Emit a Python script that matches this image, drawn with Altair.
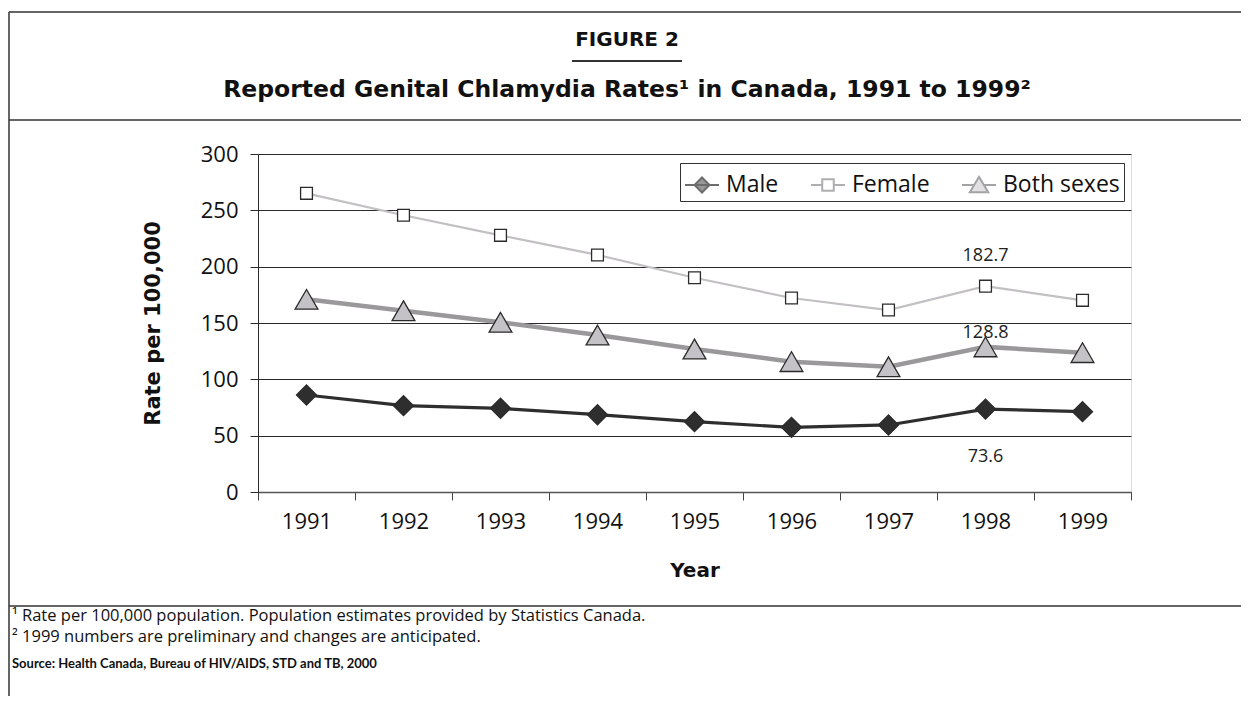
import altair as alt
import pandas as pd

# ---- data ----
years = ["1991", "1992", "1993", "1994", "1995", "1996", "1997", "1998", "1999"]
series = ["Male", "Female", "Both sexes"]
male = [86.1, 76.6, 74.3, 68.6, 62.4, 57.4, 59.5, 73.6, 71.3]
female = [265.1, 245.6, 227.8, 210.4, 190.2, 172.2, 161.5, 182.7, 170.1]
both = [171.0, 160.9, 150.6, 139.3, 126.9, 115.7, 111.2, 128.8, 123.7]
y_ticks = [0, 50, 100, 150, 200, 250, 300]

title_text = "FIGURE 2"
subtitle_text = "Reported Genital Chlamydia Rates\u00b9 in Canada, 1991 to 1999\u00b2"
note1 = "\u00b9 Rate per 100,000 population. Population estimates provided by Statistics Canada."
note2 = "\u00b2 1999 numbers are preliminary and changes are anticipated."
source = "Source: Health Canada, Bureau of HIV/AIDS, STD and TB, 2000"

rows = []
for s, vals in zip(series, [male, female, both]):
    for yv, v in zip(years, vals):
        rows.append({"year": yv, "series": s, "value": v})
df = pd.DataFrame(rows)

FONT = "Open Sans"
BOLD = "DejaVu Sans"
W, H = 873, 338
DARK = "#2b2b2b"

x_enc = alt.X("year:O", scale=alt.Scale(type="band", paddingInner=0, paddingOuter=0),
              axis=alt.Axis(title="Year", labelAngle=0, tickBand="extent", tickSize=8,
                            domainColor="#555", domainWidth=1.5, tickColor="#444",
                            labelFontSize=22, labelPadding=11, labelColor="#111",
                            labelFont=FONT, titleFont=BOLD, titleFontSize=20,
                            titleFontWeight="bold", titlePadding=28, titleColor="#111"))
y_enc = alt.Y("value:Q", scale=alt.Scale(domain=[0, 300], nice=False),
              axis=alt.Axis(title="Rate per 100,000", values=y_ticks, grid=True,
                            gridColor=DARK, gridWidth=1, domainColor=DARK, tickColor=DARK,
                            tickSize=8, labelFontSize=22, labelPadding=12, labelColor="#111",
                            labelFont=FONT, titleFont=BOLD, titleFontSize=21,
                            titleFontWeight="bold", titlePadding=37, titleColor="#111"))

base = alt.Chart(df)

line_styles = {"Female": ("#c3bfc4", 2.2), "Both sexes": ("#9a989b", 4.5), "Male": ("#2e2e2e", 3.2)}
line_layers = []
for s, (col, wd) in line_styles.items():
    line_layers.append(
        base.transform_filter(alt.datum.series == s)
        .mark_line(color=col, strokeWidth=wd)
        .encode(x=x_enc, y=y_enc)
    )

markers = base.mark_point(filled=True, opacity=1, strokeWidth=1.3, stroke="#2b2b2b").encode(
    x="year:O", y="value:Q",
    shape=alt.Shape("series:N", scale=alt.Scale(domain=series, range=["diamond", "square", "triangle-up"]), legend=None),
    fill=alt.Fill("series:N", scale=alt.Scale(domain=series, range=["#2e2e2e", "#ffffff", "#c4c2c6"]), legend=None),
    size=alt.Size("series:N", scale=alt.Scale(type="ordinal", domain=series, range=[400, 140, 520]), legend=None),
)

label_offsets = {"Female": -30, "Both sexes": -14, "Male": 48}
label_layers = []
for s, dy in label_offsets.items():
    label_layers.append(
        base.transform_filter((alt.datum.series == s) & (alt.datum.year == "1998"))
        .mark_text(dy=dy, fontSize=18, font=FONT, color="#222")
        .encode(x="year:O", y="value:Q", text=alt.Text("value:Q", format=".1f"))
    )

# legend generated from an empty layer with explicit domains
p_male = "M-1,0H1M0,-0.44L0.44,0L0,0.44L-0.44,0Z"
p_female = "M-1,0H-0.34M0.34,0H1M-0.34,-0.34H0.34V0.34H-0.34Z"
p_both = "M-1,0H-0.28M0.28,0H1M0,-0.48L0.54,0.42H-0.54Z"
legend_layer = base.transform_filter("false").mark_point(filled=True).encode(
    shape=alt.Shape("series:N", scale=alt.Scale(domain=series, range=[p_male, p_female, p_both]),
                    legend=alt.Legend(title=None, orient="none", legendX=422, legendY=9,
                                      direction="horizontal", symbolSize=1156,
                                      symbolStrokeWidth=2, labelFontSize=23, labelFont=FONT,
                                      labelColor="#111", strokeColor="#333", padding=4,
                                      columnPadding=28, labelOffset=6, fillColor="white")),
    fill=alt.Fill("series:N", scale=alt.Scale(domain=series, range=["#2e2e2e", "#ffffff", "#c4c2c6"])),
    stroke=alt.Stroke("series:N", scale=alt.Scale(domain=series, range=["#2e2e2e", "#8e8c90", "#7d7b7f"])),
)

one = pd.DataFrame({"a": [0]})

def rule(x1, x2, y1, y2, width=1.5, color="#333"):
    return alt.Chart(one).mark_rule(strokeWidth=width, color=color).encode(
        x=alt.value(x1), x2=alt.value(x2), y=alt.value(y1), y2=alt.value(y2))

def text(t, x, y, size, weight="normal", align="center", font=FONT):
    return alt.Chart(one).mark_text(fontSize=size, fontWeight=weight, font=font, align=align,
                                    baseline="middle", color="#111").encode(
        x=alt.value(x), y=alt.value(y), text=alt.value(t))

frame = [
    rule(-249, 1000, -142, -142),
    rule(-249, 1000, -34, -34),
    rule(-249, 1000, 452, 452),
    rule(-249, -249, -142, 560),
    rule(314, 424, -93, -93, width=2),
]
texts = [
    text(title_text, 369, -114, 20, "bold", font=BOLD),
    text(subtitle_text, 369, -64, 23.5, "bold", font=BOLD),
    text(note1, -246, 462, 16.5, align="left"),
    text(note2, -246, 483, 16.5, align="left"),
    text(source, -246, 510, 13, "bold", align="left", font="Lato"),
]

chart = alt.layer(*frame, *texts, *line_layers, markers, *label_layers, legend_layer).resolve_scale(
    shape="independent", fill="independent", stroke="independent", size="independent"
).properties(
    width=W, height=H,
    autosize=alt.AutoSizeParams(type="none"),
    padding={"left": 250, "top": 146, "right": 110, "bottom": 204},
).configure_view(strokeWidth=0).configure(background="white")

chart.save("out.html", embed_options={"renderer": "svg", "actions": False})
